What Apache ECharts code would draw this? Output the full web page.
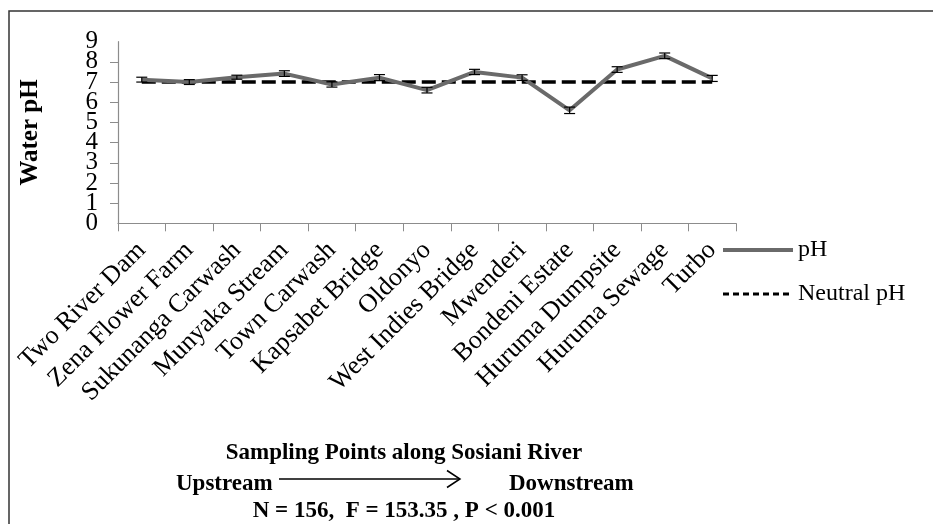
<!DOCTYPE html>
<html><head><meta charset="utf-8">
<script src="https://cdn.jsdelivr.net/npm/echarts@6/dist/echarts.min.js"></script>
<style>html,body{margin:0;padding:0;background:#fff}#c{width:933px;height:524px}</style>
</head><body><div id="c"></div>
<script>
const categories = ["Two River Dam","Zena Flower Farm","Sukunanga Carwash","Munyaka Stream","Town Carwash","Kapsabet Bridge","Oldonyo","West Indies Bridge","Mwenderi","Bondeni Estate","Huruma Dumpsite","Huruma Sewage","Turbo"];
const phValues = [7.12, 7.0, 7.24, 7.42, 6.88, 7.22, 6.6, 7.5, 7.22, 5.6, 7.62, 8.3, 7.18];
const phErrors = [0.12, 0.12, 0.1, 0.14, 0.13, 0.15, 0.14, 0.13, 0.14, 0.16, 0.14, 0.14, 0.15];
const neutralValues = [7,7,7,7,7,7,7,7,7,7,7,7,7];
const yTicks = [0,1,2,3,4,5,6,7,8,9];

const serif = '"Liberation Serif","Times New Roman",serif';
const chart = echarts.init(document.getElementById('c'), null, {renderer:'canvas'});
const errData = phValues.map((v,i)=>[i, v - phErrors[i], v + phErrors[i]]);
const yMin = yTicks[0], yMax = yTicks[yTicks.length-1];
const labelStyle = {fontSize:25,fontFamily:serif,color:'#000',margin:20,hideOverlap:false};
chart.setOption({
  animation:false,
  backgroundColor:'#fff',
  textStyle:{fontFamily:serif},
  grid:{left:118,right:197,top:41.7,bottom:300.7,containLabel:false,outerBoundsMode:'none'},
  legend:{
    orient:'vertical', left:716, top:233, itemWidth:70, itemHeight:14, itemGap:20,
    itemStyle:{opacity:0},
    textStyle:{fontFamily:serif,fontSize:24,color:'#000'},
    data:[
      {name:'pH', lineStyle:{width:4,color:'#6a6a6a'}},
      {name:'Neutral pH', lineStyle:{width:3,color:'#000',type:[6,4]}}
    ]
  },
  xAxis:{
    type:'category', data:categories, boundaryGap:true,
    axisLine:{lineStyle:{color:'#8c8c8c',width:1.2}},
    axisTick:{show:true,length:8,alignWithLabel:false,lineStyle:{color:'#8c8c8c'}},
    axisLabel:{interval:0,rotate:45,fontSize:26,fontFamily:serif,color:'#000',margin:23}
  },
  yAxis:[{
    type:'value', min:yMin, max:yMax, interval:1,
    name:'Water pH', nameLocation:'middle', nameGap:75,
    nameTextStyle:{fontFamily:serif,fontSize:25,fontWeight:'bold',color:'#000'},
    splitLine:{show:false},
    axisLine:{show:true,lineStyle:{color:'#8c8c8c',width:1.2}},
    axisTick:{show:true,length:8,lineStyle:{color:'#8c8c8c'}},
    axisLabel:Object.assign({showMinLabel:false,showMaxLabel:false}, labelStyle)
  },{
    type:'value', min:yMin, max:yMax, interval:yMax - yMin, position:'left', offset:0,
    splitLine:{show:false}, axisLine:{show:false}, axisTick:{show:false},
    axisLabel:Object.assign({showMinLabel:true,showMaxLabel:true}, labelStyle)
  }],
  series:[
    {name:'Neutral pH', type:'line', data:neutralValues, symbol:'none', z:3,
     lineStyle:{color:'#000',width:3.5,type:[14,6]}, itemStyle:{color:'#000'}},
    {name:'pH', type:'line', data:phValues, symbol:'none', z:4,
     lineStyle:{color:'#6a6a6a',width:4}, itemStyle:{color:'#6a6a6a'}},
    {name:'err', type:'custom', z:5, data:errData,
     renderItem:function(params, api){
       const x = api.value(0);
       const lo = api.coord([x, api.value(1)]);
       const hi = api.coord([x, api.value(2)]);
       const w = 5.5;
       const st = {stroke:'#000', lineWidth:1.2};
       return {type:'group', children:[
         {type:'line', shape:{x1:lo[0],y1:lo[1],x2:hi[0],y2:hi[1]}, style:st},
         {type:'line', shape:{x1:lo[0]-w,y1:lo[1],x2:lo[0]+w,y2:lo[1]}, style:st},
         {type:'line', shape:{x1:hi[0]-w,y1:hi[1],x2:hi[0]+w,y2:hi[1]}, style:st}
       ]};
     }}
  ],
  graphic:[
    {type:'rect', shape:{x:9,y:11,width:1000,height:1000}, style:{fill:'none',stroke:'#333',lineWidth:1.5}, silent:true},
    {type:'text', x:404, y:453, style:{text:'Sampling Points along Sosiani River', font:'bold 23px '+serif, fill:'#000', textAlign:'center', textVerticalAlign:'middle'}},
    {type:'text', x:176, y:484, style:{text:'Upstream', font:'bold 23px '+serif, fill:'#000', textAlign:'left', textVerticalAlign:'middle'}},
    {type:'text', x:509, y:484, style:{text:'Downstream', font:'bold 23px '+serif, fill:'#000', textAlign:'left', textVerticalAlign:'middle'}},
    {type:'text', x:404, y:511, style:{text:'N = 156,  F = 153.35 , P < 0.001', font:'bold 23px '+serif, fill:'#000', textAlign:'center', textVerticalAlign:'middle'}},
    {type:'line', shape:{x1:279,y1:479,x2:459,y2:479}, style:{stroke:'#000',lineWidth:1.5}},
    {type:'polyline', shape:{points:[[447,470.5],[460,479],[447,487.5]]}, style:{stroke:'#000',lineWidth:1.5,fill:'none'}}
  ]
});
</script></body></html>
